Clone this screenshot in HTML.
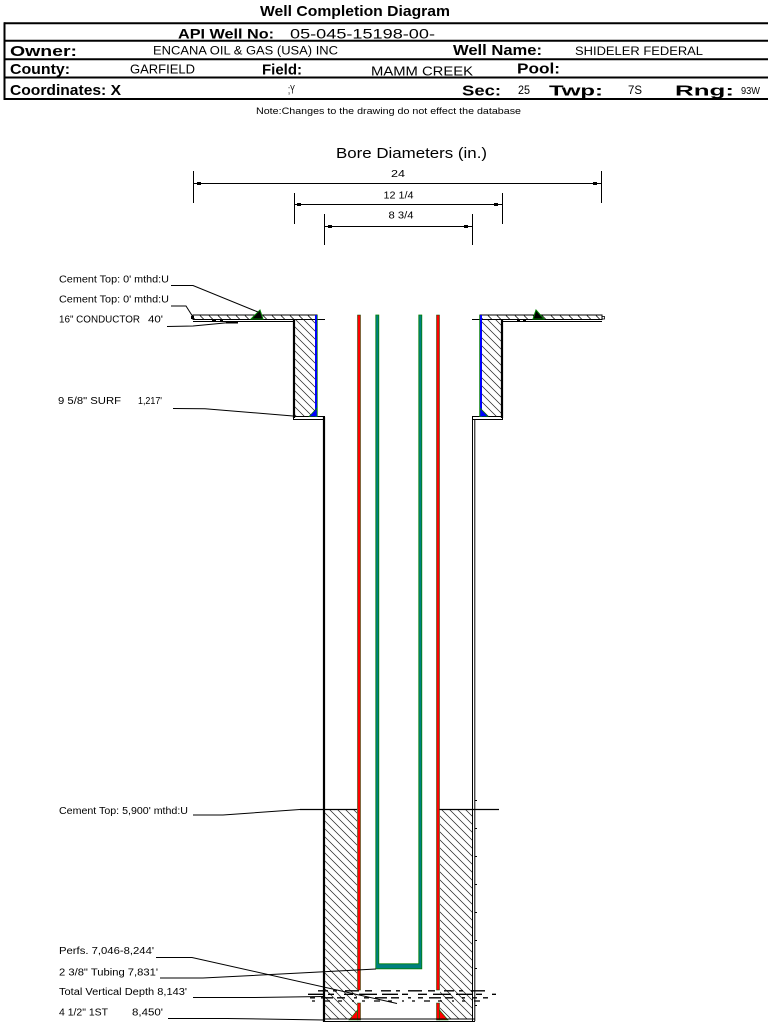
<!DOCTYPE html>
<html><head><meta charset="utf-8"><style>
html,body{margin:0;padding:0;background:#fff;}
svg{display:block;}
text{font-family:"Liberation Sans",Arial,sans-serif;fill:#000;}
</style></head><body>
<svg width="769" height="1023" viewBox="0 0 769 1023" xmlns="http://www.w3.org/2000/svg">
<defs>
<pattern id="h" patternUnits="userSpaceOnUse" width="8" height="8">
<path d="M-1,-1 L9,9 M-1,7 L1,9 M7,-1 L9,1" stroke="#222" stroke-width="0.7" fill="none"/>
</pattern>
<pattern id="hs" patternUnits="userSpaceOnUse" width="9" height="5">
<path d="M2,0.5 L6,4.5" stroke="#000" stroke-width="0.8" fill="none"/>
</pattern>
</defs>
<rect width="769" height="1023" fill="#fff"/>

<!-- Header -->
<text x="260" y="16" font-size="15" font-weight="bold" textLength="190" lengthAdjust="spacingAndGlyphs">Well Completion Diagram</text>
<g stroke="#000" stroke-width="2">
<line x1="4" y1="23.3" x2="768" y2="23.3"/>
<line x1="4" y1="40.7" x2="768" y2="40.7"/>
<line x1="4" y1="59.2" x2="768" y2="59.2"/>
<line x1="4" y1="77.5" x2="768" y2="77.5"/>
<line x1="4" y1="99" x2="768" y2="99"/>
<line x1="4.5" y1="22.3" x2="4.5" y2="100"/>
</g>
<text x="178" y="38.5" font-size="14" font-weight="bold" textLength="96" lengthAdjust="spacingAndGlyphs">API Well No:</text>
<text x="290" y="38.3" font-size="13.5" textLength="145" lengthAdjust="spacingAndGlyphs">05-045-15198-00-</text>

<text x="10" y="56" font-size="15" font-weight="bold" textLength="67" lengthAdjust="spacingAndGlyphs">Owner:</text>
<text x="153" y="54.5" font-size="11.5" textLength="185" lengthAdjust="spacingAndGlyphs">ENCANA OIL &amp; GAS (USA) INC</text>
<text x="453" y="55" font-size="15" font-weight="bold" textLength="89" lengthAdjust="spacingAndGlyphs">Well Name:</text>
<text x="575" y="55" font-size="12" textLength="128" lengthAdjust="spacingAndGlyphs">SHIDELER FEDERAL</text>

<text x="10" y="74" font-size="15" font-weight="bold" textLength="60" lengthAdjust="spacingAndGlyphs">County:</text>
<text x="130" y="73.5" font-size="12.5" textLength="65" lengthAdjust="spacingAndGlyphs">GARFIELD</text>
<text x="262" y="74.5" font-size="15" font-weight="bold" textLength="40" lengthAdjust="spacingAndGlyphs">Field:</text>
<text x="371" y="75.5" font-size="12.5" textLength="102" lengthAdjust="spacingAndGlyphs">MAMM CREEK</text>
<text x="517" y="73.5" font-size="15" font-weight="bold" textLength="43" lengthAdjust="spacingAndGlyphs">Pool:</text>

<text x="10" y="95" font-size="15" font-weight="bold" textLength="111" lengthAdjust="spacingAndGlyphs">Coordinates: X</text>
<text x="288" y="93.5" font-size="12" textLength="7" lengthAdjust="spacingAndGlyphs">;Y</text>
<text x="462" y="95.5" font-size="15" font-weight="bold" textLength="39" lengthAdjust="spacingAndGlyphs">Sec:</text>
<text x="518" y="94" font-size="12" textLength="12" lengthAdjust="spacingAndGlyphs">25</text>
<text x="549" y="95.5" font-size="15" font-weight="bold" textLength="54" lengthAdjust="spacingAndGlyphs">Twp:</text>
<text x="628" y="94" font-size="12" textLength="14" lengthAdjust="spacingAndGlyphs">7S</text>
<text x="675" y="95.5" font-size="15" font-weight="bold" textLength="59" lengthAdjust="spacingAndGlyphs">Rng:</text>
<text x="741" y="94" font-size="10" textLength="19" lengthAdjust="spacingAndGlyphs">93W</text>

<text x="256" y="114" font-size="9" textLength="265" lengthAdjust="spacingAndGlyphs">Note:Changes to the drawing do not effect the database</text>

<!-- Bore Diameters -->
<text x="336" y="158" font-size="15" textLength="151" lengthAdjust="spacingAndGlyphs">Bore Diameters (in.)</text>
<g stroke="#000" stroke-width="1">
<line x1="193.5" y1="171" x2="193.5" y2="203"/>
<line x1="601.5" y1="171" x2="601.5" y2="203"/>
<line x1="194" y1="183.5" x2="601" y2="183.5"/>
<line x1="294.5" y1="193" x2="294.5" y2="224"/>
<line x1="502.5" y1="193" x2="502.5" y2="224"/>
<line x1="295" y1="204.5" x2="502" y2="204.5"/>
<line x1="324.5" y1="214" x2="324.5" y2="245"/>
<line x1="472.5" y1="214" x2="472.5" y2="245"/>
<line x1="325" y1="226.5" x2="472" y2="226.5"/>
</g>
<g fill="#000">
<rect x="197" y="182" width="4" height="3"/><rect x="593" y="182" width="4" height="3"/>
<rect x="297" y="203" width="4" height="3"/><rect x="494" y="203" width="4" height="3"/>
<rect x="328" y="225" width="4" height="3"/><rect x="464" y="225" width="4" height="3"/>
</g>
<text x="391" y="177" font-size="10" textLength="14" lengthAdjust="spacingAndGlyphs">24</text>
<text x="383.5" y="198.5" font-size="10" textLength="30" lengthAdjust="spacingAndGlyphs">12 1/4</text>
<text x="388.5" y="218.5" font-size="10" textLength="25" lengthAdjust="spacingAndGlyphs">8 3/4</text>

<!-- Conductor slabs -->
<rect x="193" y="315" width="124" height="4.5" fill="url(#hs)" stroke="#000" stroke-width="1"/>
<rect x="480" y="315" width="122" height="4.5" fill="url(#hs)" stroke="#000" stroke-width="1"/>
<rect x="602" y="316.5" width="2.5" height="2.5" fill="none" stroke="#000" stroke-width="0.8"/>
<rect x="191" y="316" width="3" height="3" fill="#000"/>
<g stroke="#000" stroke-width="1">
<line x1="193" y1="321.5" x2="294" y2="321.5"/>
<line x1="503" y1="321.5" x2="602" y2="321.5"/>
<line x1="317" y1="319.5" x2="325" y2="319.5"/>
<line x1="472" y1="319.5" x2="480" y2="319.5"/>
</g>
<g fill="#000">
<rect x="212" y="320" width="4" height="2"/><rect x="220" y="320" width="3" height="2"/>
<rect x="226" y="322" width="12" height="1.5"/>
<rect x="517" y="320" width="3" height="2"/><rect x="523" y="320" width="3" height="2"/>
</g>

<!-- Surface casing cement blocks -->
<rect x="294" y="320" width="22" height="96.5" fill="url(#h)"/>
<rect x="481" y="320" width="21" height="96.5" fill="url(#h)"/>
<g stroke="#000">
<line x1="294" y1="320" x2="294" y2="418" stroke-width="2.2"/>
<line x1="502" y1="320" x2="502" y2="418" stroke-width="2.2"/>
<rect x="293.5" y="416.5" width="31" height="3" fill="none" stroke-width="1"/>
<rect x="472.5" y="416.5" width="30" height="3" fill="none" stroke-width="1"/>
<line x1="324" y1="417" x2="324" y2="1022" stroke-width="2.2"/>
<line x1="472.5" y1="417" x2="472.5" y2="1021" stroke-width="1"/>
<line x1="474.8" y1="419" x2="474.8" y2="1021" stroke-width="1"/>
</g>
<g stroke="#000" stroke-width="1">
<line x1="475" y1="800.5" x2="477" y2="800.5"/><line x1="475" y1="828.5" x2="477" y2="828.5"/>
<line x1="475" y1="856.5" x2="477" y2="856.5"/><line x1="475" y1="884.5" x2="477" y2="884.5"/>
<line x1="475" y1="912.5" x2="477" y2="912.5"/><line x1="475" y1="940.5" x2="477" y2="940.5"/>
<line x1="475" y1="968.5" x2="477" y2="968.5"/><line x1="475" y1="1005.5" x2="477" y2="1005.5"/>
</g>
<!-- blue surface casing -->
<rect x="315" y="315" width="2.2" height="102" fill="#0000ff"/>
<rect x="479.8" y="315" width="2.2" height="102" fill="#0000ff"/>
<line x1="317.3" y1="315" x2="317.3" y2="417" stroke="#008000" stroke-width="0.7"/>
<line x1="479.6" y1="315" x2="479.6" y2="417" stroke="#008000" stroke-width="0.7"/>
<polygon points="309,416.5 317,416.5 317,408" fill="#0000ff" stroke="#008000" stroke-width="0.6"/>
<polygon points="480,408 480,416.5 488,416.5" fill="#0000ff" stroke="#008000" stroke-width="0.6"/>

<!-- cement top markers -->
<polygon points="251,319 263,319 260,310" fill="#000" stroke="#008000" stroke-width="1"/>
<polygon points="533,319 544,319 536,310" fill="#000" stroke="#008000" stroke-width="1"/>

<!-- Production cement -->
<rect x="325" y="810" width="32" height="208.5" fill="url(#h)"/>
<rect x="440" y="810" width="32" height="208.5" fill="url(#h)"/>
<g stroke="#000" stroke-width="1.2">
<line x1="300" y1="809.5" x2="357" y2="809.5"/>
<line x1="439" y1="809.5" x2="499" y2="809.5"/>
</g>

<!-- Production casing (red) -->
<rect x="357.5" y="315" width="3" height="675" fill="#ff0000" stroke="#005000" stroke-width="0.5"/>
<rect x="436.5" y="315" width="3" height="675" fill="#ff0000" stroke="#005000" stroke-width="0.5"/>
<rect x="357.5" y="1003" width="3" height="17" fill="#ff0000" stroke="#005000" stroke-width="0.5"/>
<rect x="436.5" y="1003" width="3" height="17" fill="#ff0000" stroke="#005000" stroke-width="0.5"/>
<polygon points="349,1020 357.5,1020 357.5,1010" fill="#ff0000" stroke="#008000" stroke-width="0.6"/>
<polygon points="439.5,1010 439.5,1020 448,1020" fill="#ff0000" stroke="#008000" stroke-width="0.6"/>

<!-- Tubing -->
<path d="M375.8,315 L375.8,968.8 L421.8,968.8 L421.8,315 L418.8,315 L418.8,963.8 L378.8,963.8 L378.8,315 Z" fill="#008080" stroke="#008000" stroke-width="0.8"/>

<!-- Bottom line -->
<g stroke="#000" stroke-width="1">
<line x1="323" y1="1019" x2="475" y2="1019"/>
<line x1="323" y1="1021.5" x2="475" y2="1021.5"/>
</g>

<!-- Break lines -->
<g stroke="#000" stroke-width="1.3" fill="none">
<line x1="318" y1="990.8" x2="488" y2="990.8" stroke-dasharray="10,5,4,8,14,6,7,9"/>
<line x1="308" y1="994.3" x2="496" y2="994.3" stroke-dasharray="16,4,6,10,9,6,18,5"/>
<line x1="310" y1="997.8" x2="488" y2="997.8" stroke-dasharray="5,6,12,4,8,9,3,7"/>
<line x1="312" y1="1001" x2="488" y2="1001" stroke-dasharray="3,9,6,8,4,10,2,8"/>
</g>

<!-- Leaders -->
<g stroke="#000" stroke-width="1" fill="none">
<polyline points="171,285.5 193,285.5 258,312"/>
<polyline points="171,306 186,306 193,317"/>
<polyline points="167,326.5 193,326 235,322"/>
<polyline points="173,408.5 205,408.7 293,416"/>
<polyline points="193,815 223,815 300,809.5"/>
<polyline points="156,957.5 192,957.5 397,1003.5"/>
<polyline points="160,978 203,978 300,973 376,969"/>
<polyline points="193,997.5 255,997.5 324,996.5"/>
<polyline points="168,1018.5 227,1018.5 324,1020"/>
</g>

<!-- Labels -->
<text x="59" y="282.5" font-size="10" textLength="110" lengthAdjust="spacingAndGlyphs">Cement Top: 0' mthd:U</text>
<text x="59" y="302.5" font-size="10" textLength="110" lengthAdjust="spacingAndGlyphs">Cement Top: 0' mthd:U</text>
<text x="59" y="322.5" font-size="10" textLength="81" lengthAdjust="spacingAndGlyphs">16" CONDUCTOR</text>
<text x="148" y="322.5" font-size="10" textLength="15" lengthAdjust="spacingAndGlyphs">40'</text>
<text x="58" y="404" font-size="10" textLength="63" lengthAdjust="spacingAndGlyphs">9 5/8" SURF</text>
<text x="138" y="404" font-size="10" textLength="24" lengthAdjust="spacingAndGlyphs">1,217'</text>
<text x="59" y="814" font-size="10" textLength="129" lengthAdjust="spacingAndGlyphs">Cement Top: 5,900' mthd:U</text>
<text x="59" y="954" font-size="10" textLength="95" lengthAdjust="spacingAndGlyphs">Perfs. 7,046-8,244'</text>
<text x="59" y="975.5" font-size="10" textLength="99" lengthAdjust="spacingAndGlyphs">2 3/8" Tubing 7,831'</text>
<text x="59" y="995" font-size="10" textLength="128" lengthAdjust="spacingAndGlyphs">Total Vertical Depth 8,143'</text>
<text x="59" y="1015.5" font-size="10" textLength="49" lengthAdjust="spacingAndGlyphs">4 1/2" 1ST</text>
<text x="132" y="1015.5" font-size="10" textLength="31" lengthAdjust="spacingAndGlyphs">8,450'</text>
</svg>
</body></html>
